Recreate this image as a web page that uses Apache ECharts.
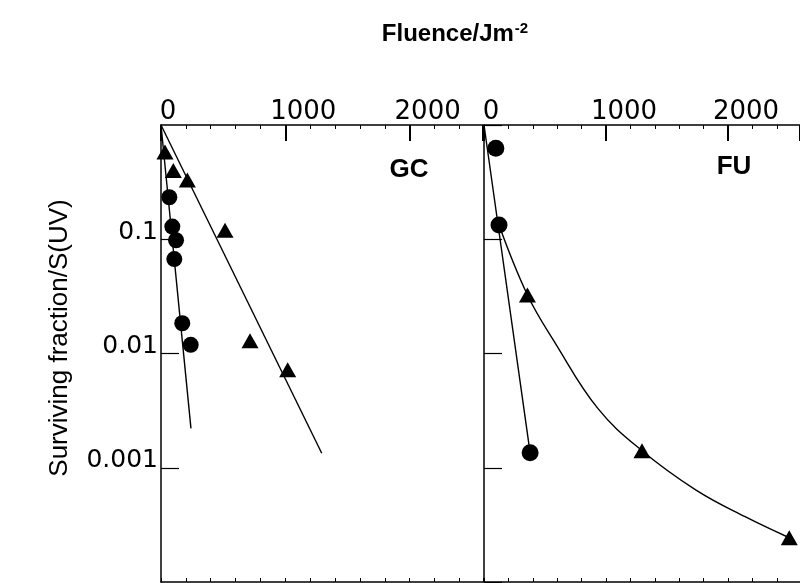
<!DOCTYPE html>
<html>
<head>
<meta charset="utf-8">
<title>Surviving fraction vs fluence</title>
<script src="https://cdn.jsdelivr.net/npm/echarts@6/dist/echarts.min.js"></script>
<style>
  html, body { margin: 0; padding: 0; background: #ffffff; }
  #chart { width: 800px; height: 583px; }
</style>
</head>
<body>
<div id="chart"></div>
<script>
// Fluence axis tick labels (J m^-2) and survival tick labels (log scale)
const xTickLabels = ['0', '1000', '2000'];
const yTickLabels = ['0.1', '0.01', '0.001'];

// GC panel: [fluence, surviving fraction]
const gcCircles = [[67, 0.233], [91, 0.129], [121, 0.098], [107, 0.067], [171, 0.0184], [239, 0.0119]];
const gcTriangles = [[32, 0.58], [99, 0.40], [212, 0.33], [515, 0.12], [716, 0.0129], [1019, 0.0072]];
const gcCircleFit = [[0, 1], [241, 0.00221]];
const gcTriangleFit = [[0, 1], [1293, 0.00134]];

// FU panel
const fuCircles = [[97, 0.625], [123, 0.133], [378, 0.00135]];
const fuTriangles = [[356, 0.0325], [1295, 0.00141], [2502, 0.000244]];
const fuCircleFit = [[0, 1], [378, 0.00135]];
const fuTriangleCurve = [[123, 0.133], [356, 0.0325], [585, 0.01228], [933, 0.00331],
  [1295, 0.00141], [1738, 0.000638], [2140, 0.000373], [2502, 0.000244]];

const black = '#000000';
const FONT = '"Liberation Sans", Arial, Helvetica, sans-serif';
const NUM_FONT = '"DejaVu Sans", "Liberation Sans", sans-serif';

const chart = echarts.init(document.getElementById('chart'), null, { renderer: 'canvas' });

function topAxis(gridIndex) {
  return {
    type: 'value', gridIndex: gridIndex, position: 'top',
    min: 0, max: 2590, interval: 1000,
    axisLine: { show: true, lineStyle: { color: black, width: 1.5 } },
    axisTick: { show: true, inside: true, length: 16, lineStyle: { color: black, width: 2 } },
    minorTick: { show: true, splitNumber: 5, length: 4, lineStyle: { color: black, width: 1 } },
    splitLine: { show: false },
    axisLabel: {
      show: true, margin: 0, color: black, fontFamily: NUM_FONT, fontSize: 26,
      formatter: function (v) {
        const s = xTickLabels.find(function (t) { return Number(t) === v; });
        if (s === undefined) return '';
        return v === 0 ? '{z|' + s + '}' : '{n|' + s + '}';
      },
      rich: {
        z: { fontFamily: NUM_FONT, fontSize: 26, color: black, padding: [0, 0, 0, 14] },
        n: { fontFamily: NUM_FONT, fontSize: 26, color: black, padding: [0, 0, 0, 36] }
      },
      showMaxLabel: false
    }
  };
}

function bottomAxis(gridIndex) {
  return {
    type: 'value', gridIndex: gridIndex, position: 'bottom',
    min: 0, max: 2590, interval: 200,
    axisLine: { show: true, lineStyle: { color: black, width: 1.5 } },
    axisTick: { show: true, inside: true, length: 4, lineStyle: { color: black, width: 1 } },
    splitLine: { show: false },
    axisLabel: { show: false }
  };
}

function logAxis(gridIndex, withLabels) {
  return {
    type: 'log', logBase: 10, gridIndex: gridIndex, position: 'left',
    min: 0.0001, max: 1,
    axisLine: { show: true, lineStyle: { color: black, width: 1.5 } },
    axisTick: { show: true, inside: true, length: 18, lineStyle: { color: black, width: 1.2 } },
    splitLine: { show: false },
    axisLabel: {
      show: withLabels, margin: 3, color: black, fontFamily: NUM_FONT, fontSize: 25,
      showMinLabel: false, showMaxLabel: false,
      formatter: function (v) {
        const k = Math.round(-Math.log10(v));
        return (k >= 1 && k <= yTickLabels.length) ? '{y|' + yTickLabels[k - 1] + '}' : '';
      },
      rich: {
        y: { fontFamily: NUM_FONT, fontSize: 25, color: black, padding: [0, 0, 14, 0] }
      }
    }
  };
}

function scatter(name, data, symbol, size, xi, yi) {
  return {
    name: name, type: 'scatter', data: data, xAxisIndex: xi, yAxisIndex: yi,
    symbol: symbol, symbolSize: size,
    itemStyle: { color: black, opacity: 1 }, z: 5, silent: true
  };
}

function fit(name, data, xi, yi, smooth) {
  return {
    name: name, type: 'line', data: data, xAxisIndex: xi, yAxisIndex: yi,
    showSymbol: false, symbol: 'none', smooth: smooth || false,
    lineStyle: { color: black, width: 1.4 }, z: 3, silent: true
  };
}

const option = {
  animation: false,
  backgroundColor: '#ffffff',
  grid: [
    { left: 161, top: 125, width: 322, height: 457 },
    { left: 484, top: 125, width: 322, height: 457 }
  ],
  xAxis: [topAxis(0), topAxis(1), bottomAxis(0), bottomAxis(1)],
  yAxis: [logAxis(0, true), logAxis(1, false)],
  graphic: [
    {
      type: 'text', x: 455, y: 34,
      style: {
        text: 'Fluence/Jm{sup|-2}', align: 'center', verticalAlign: 'middle',
        font: 'bold 24px ' + FONT, fill: black,
        rich: { sup: { font: 'bold 15px ' + FONT, fill: black, padding: [0, 0, 10, 1] } }
      }
    },
    {
      type: 'text', rotation: Math.PI / 2, x: 60, y: 338,
      style: {
        text: 'Surviving fraction/S(UV)', align: 'center', verticalAlign: 'middle',
        font: '26px ' + FONT, fill: black
      }
    },
    {
      type: 'text', x: 409, y: 170,
      style: { text: 'GC', align: 'center', verticalAlign: 'middle', font: 'bold 26px ' + FONT, fill: black }
    },
    {
      type: 'text', x: 734, y: 167,
      style: { text: 'FU', align: 'center', verticalAlign: 'middle', font: 'bold 26px ' + FONT, fill: black }
    }
  ],
  series: [
    fit('GC circle fit', gcCircleFit, 0, 0),
    fit('GC triangle fit', gcTriangleFit, 0, 0),
    scatter('GC circles', gcCircles, 'circle', 16, 0, 0),
    scatter('GC triangles', gcTriangles, 'triangle', [17, 15], 0, 0),
    fit('FU circle fit', fuCircleFit, 1, 1),
    fit('FU triangle curve', fuTriangleCurve, 1, 1, 0.4),
    scatter('FU circles', fuCircles, 'circle', 17, 1, 1),
    scatter('FU triangles', fuTriangles, 'triangle', [17, 15], 1, 1)
  ]
};

chart.setOption(option);
</script>
</body>
</html>
